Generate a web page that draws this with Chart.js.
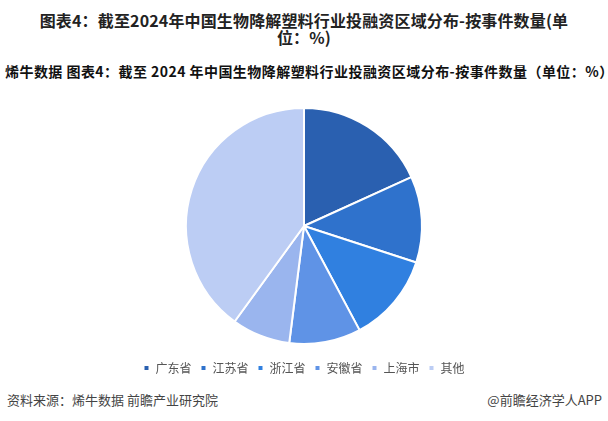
<!DOCTYPE html>
<html><head><meta charset="utf-8">
<script src="https://cdn.jsdelivr.net/npm/chart.js@4.4.0/dist/chart.umd.min.js"></script>
<style>
html,body{margin:0;padding:0;background:#fff;width:608px;height:421px;overflow:hidden;font-family:"Noto Sans CJK SC",sans-serif;}
#t1{position:absolute;left:0;top:12px;width:608px;text-align:center;font-size:16px;font-weight:bold;color:#222;line-height:17px;letter-spacing:0.15px;}
#t2{position:absolute;left:5px;top:61px;width:603px;font-size:14px;font-weight:bold;color:#111;white-space:nowrap;letter-spacing:0.45px;}
#wrap{position:absolute;left:0;top:92px;width:608px;height:292px;}
#src{position:absolute;left:7px;top:390px;font-size:13px;color:#444;}
#app{position:absolute;right:6px;top:390px;font-size:13px;color:#444;}
</style></head>
<body>
<div id="t1">图表4：截至2024年中国生物降解塑料行业投融资区域分布-按事件数量(单<br>位：%)</div>
<div id="t2">烯牛数据 图表4：截至 2024 年中国生物降解塑料行业投融资区域分布-按事件数量（单位：%）</div>
<div id="wrap"><canvas id="c"></canvas></div>
<div id="src">资料来源：烯牛数据 前瞻产业研究院</div>
<div id="app">@前瞻经济学人APP</div>
<script>
const categories = ["广东省","江苏省","浙江省","安徽省","上海市","其他"];
const values = [18.2, 11.8, 12.2, 9.8, 8.0, 40.0];
const colors = ["#2a60b0","#2f72cc","#3080e0","#5f93e6","#9ab5ee","#bccdf4"];
new Chart(document.getElementById('c'), {
  type: 'pie',
  data: { labels: categories, datasets: [{ data: values, backgroundColor: colors, borderColor: '#ffffff', borderWidth: 2, radius: 118 }] },
  options: {
    responsive: true, maintainAspectRatio: false, animation: false,
    layout: { padding: { top: 7, bottom: 0 } },
    plugins: {
      tooltip: { enabled: false },
      legend: {
        position: 'bottom',
        labels: { boxWidth: 6, boxHeight: 6, padding: 9, color: '#555', font: { size: 12, family: '"Noto Sans CJK SC", sans-serif' } }
      }
    }
  }
});
</script>
</body></html>
